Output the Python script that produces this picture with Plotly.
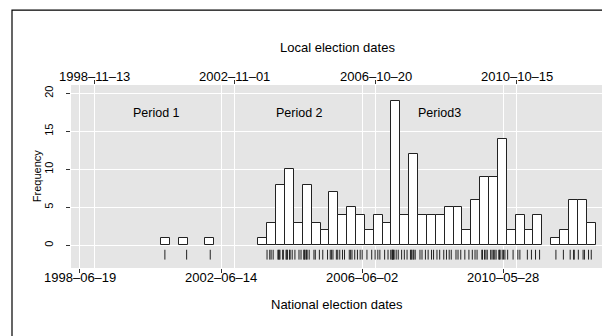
import plotly.graph_objects as go
import pandas as pd

# ---- data ----
quarters = ["2000Q4", "2001Q2", "2002Q1",
            "2003Q3", "2003Q4", "2004Q1", "2004Q2", "2004Q3", "2004Q4",
            "2005Q1", "2005Q2", "2005Q3", "2005Q4", "2006Q1", "2006Q2",
            "2006Q3", "2006Q4", "2007Q1", "2007Q2", "2007Q3", "2007Q4",
            "2008Q1", "2008Q2", "2008Q3", "2008Q4", "2009Q1", "2009Q2",
            "2009Q3", "2009Q4", "2010Q1", "2010Q2", "2010Q3", "2010Q4",
            "2011Q1", "2011Q2", "2011Q4", "2012Q1", "2012Q2", "2012Q3",
            "2012Q4"]
counts = [1, 1, 1,
          1, 3, 8, 10, 3, 8,
          3, 2, 7, 4, 5, 4,
          2, 4, 3, 19, 4, 12,
          4, 4, 4, 5, 5, 2,
          6, 9, 9, 14, 2, 4,
          2, 4, 1, 2, 6, 6,
          3]

rug_dates = [
    "2000-11-10", "2001-06-22", "2002-02-20",
    "2003-09-28", "2003-10-26", "2003-11-09", "2003-11-30",
    "2004-01-18", "2004-01-25", "2004-02-01", "2004-02-08", "2004-03-07", "2004-03-14",
    "2004-04-11", "2004-04-18", "2004-04-25", "2004-05-16", "2004-05-23", "2004-06-13",
    "2004-07-11", "2004-08-22", "2004-09-12",
    "2004-10-10", "2004-10-17", "2004-10-24", "2004-11-07", "2004-11-14", "2004-12-05",
    "2005-01-23", "2005-02-06", "2005-03-20", "2005-04-24", "2005-06-12",
    "2005-07-10", "2005-07-24", "2005-08-07", "2005-09-11", "2005-09-25",
    "2005-10-16", "2005-11-13", "2005-12-04",
    "2006-01-22", "2006-02-05", "2006-02-19", "2006-03-19",
    "2006-04-16", "2006-05-14", "2006-06-04", "2006-07-23", "2006-09-10",
    "2006-10-15", "2006-11-12", "2006-12-03",
    "2007-01-21", "2007-02-25", "2007-03-25",
    "2007-04-08", "2007-04-10", "2007-04-15", "2007-04-22", "2007-04-29", "2007-05-20", "2007-06-10",
    "2007-07-15", "2007-08-12", "2007-09-09",
    "2007-10-14", "2007-10-21", "2007-10-28", "2007-11-11", "2007-11-18", "2007-12-02",
    "2008-01-20", "2008-02-10", "2008-03-16", "2008-04-13", "2008-05-18", "2008-06-08",
    "2008-07-13", "2008-08-10", "2008-09-21", "2008-10-19", "2008-11-16", "2008-12-07",
    "2009-01-25", "2009-02-15", "2009-03-15", "2009-04-26", "2009-06-07",
    "2009-07-12", "2009-08-09", "2009-08-30",
    "2009-10-18", "2009-10-25", "2009-11-15", "2009-11-29", "2009-12-13",
    "2010-01-17", "2010-01-31", "2010-02-14", "2010-02-28", "2010-03-14",
    "2010-04-11", "2010-04-18", "2010-04-25", "2010-05-16", "2010-05-30", "2010-06-13",
    "2010-07-11", "2010-09-05", "2010-10-24", "2010-11-14",
    "2011-01-30", "2011-03-13", "2011-04-24", "2011-06-05",
    "2011-11-20", "2012-02-05", "2012-04-15", "2012-05-20", "2012-05-27",
    "2012-07-08", "2012-08-26", "2012-09-09", "2012-10-21", "2012-11-18",
]

national_dates = ["1998-06-19", "2002-06-14", "2006-06-02", "2010-05-28"]
local_dates = ["1998-11-13", "2002-11-01", "2006-10-20", "2010-10-15"]

period_labels = ["Period 1", "Period 2", "Period3"]
period_label_dates = ["2000-08-17", "2004-08-29", "2008-08-11"]
period_label_y = [17.4, 17.4, 17.4]

x_range = ["1998-03-19", "2013-03-19"]
y_range = [-2.97, 21.09]
y_ticks = [0, 5, 10, 15, 20]

# ---- derived ----
periods = [pd.Period(q, freq="Q") for q in quarters]
starts = [p.start_time for p in periods]
widths = [((p + 1).start_time - p.start_time).total_seconds() * 1000 for p in periods]

def dash(s):
    return s.replace("-", "\u2013")

FONT = "Liberation Sans, Arial, Helvetica, sans-serif"

fig = go.Figure()
fig.add_trace(go.Bar(
    x=starts, y=counts, width=widths, offset=0,
    marker=dict(color="white", line=dict(color="#222222", width=1)),
    showlegend=False, hoverinfo="skip",
))
fig.add_trace(go.Scatter(
    x=pd.to_datetime(rug_dates), y=[-1.22] * len(rug_dates), mode="markers",
    marker=dict(symbol="line-ns", size=7, line=dict(color="#222222", width=1)),
    showlegend=False, hoverinfo="skip",
))
# invisible trace on the top axis
fig.add_trace(go.Scatter(x=pd.to_datetime(local_dates), y=[None] * 4, xaxis="x2",
                         mode="markers", showlegend=False, hoverinfo="skip"))

for lab, d, yv in zip(period_labels, period_label_dates, period_label_y):
    fig.add_annotation(x=pd.Timestamp(d), y=yv, text=lab, showarrow=False,
                       xanchor="center", yanchor="middle",
                       font=dict(size=12.5, color="black", family=FONT))

# date tick labels (placed as text at the axis dates)
for d in national_dates:
    fig.add_annotation(x=pd.Timestamp(d), xref="x", yref="paper", y=-0.053, text=dash(d),
                       showarrow=False, xanchor="center", yanchor="middle",
                       font=dict(size=13, color="black", family=FONT))
for d in local_dates:
    fig.add_annotation(x=pd.Timestamp(d), xref="x", yref="paper", y=1.049, text=dash(d),
                       showarrow=False, xanchor="center", yanchor="middle",
                       font=dict(size=13, color="black", family=FONT))

# axis titles
fig.add_annotation(xref="paper", yref="paper", x=0.5, y=1.207, text="Local election dates",
                   showarrow=False, xanchor="center", yanchor="middle",
                   font=dict(size=13, color="black", family=FONT))
fig.add_annotation(xref="paper", yref="paper", x=0.5, y=-0.200, text="National election dates",
                   showarrow=False, xanchor="center", yanchor="middle",
                   font=dict(size=13, color="black", family=FONT))
fig.add_annotation(xref="paper", yref="paper", x=-0.0645, y=0.5, text="Frequency",
                   textangle=-90, showarrow=False, xanchor="center", yanchor="middle",
                   font=dict(size=11, color="black", family=FONT))

fig.update_layout(
    width=602, height=328,
    margin=dict(l=63, r=7, t=77, b=68, autoexpand=False),
    paper_bgcolor="white", plot_bgcolor="#E5E5E5",
    font=dict(family=FONT, size=13, color="black"),
    bargap=0,
    xaxis=dict(type="date", range=x_range, tickvals=pd.to_datetime(national_dates),
               showticklabels=False,
               ticks="outside", ticklen=4, tickcolor="#333333", tickwidth=1,
               showgrid=True, gridcolor="white", gridwidth=1.3, zeroline=False,
               showline=False, automargin=False),
    xaxis2=dict(type="date", range=x_range, overlaying="x", side="top",
                tickvals=pd.to_datetime(local_dates), showticklabels=False,
                ticks="outside", ticklen=4, tickcolor="#333333", tickwidth=1,
                showgrid=True, gridcolor="white", gridwidth=1.3, zeroline=False,
                showline=False, automargin=False),
    yaxis=dict(range=y_range, tickvals=y_ticks, tickangle=-90,
               ticks="outside", ticklen=4, tickcolor="#333333", tickwidth=1,
               showgrid=True, gridcolor="white", gridwidth=1.3, zeroline=False,
               showline=False, tickfont=dict(size=11), automargin=False,
               ticklabelstandoff=9),
    shapes=[dict(type="rect", xref="paper", yref="paper",
                 x0=-0.1109, x1=2.0, y0=-2.0, y1=1.409,
                 line=dict(color="black", width=1.2), fillcolor="rgba(0,0,0,0)",
                 layer="below")],
)

fig.write_html("out.html")
